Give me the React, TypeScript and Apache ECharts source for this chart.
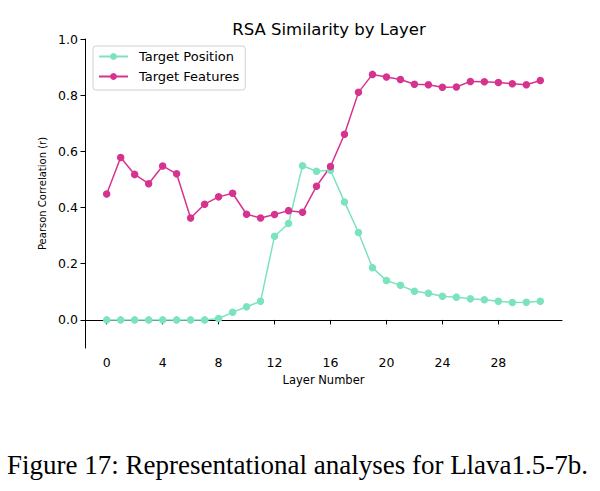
import React, { useEffect, useRef } from "react";
import * as echarts from "echarts";

const layers = Array.from({ length: 32 }, (_, i) => i);
const targetPosition = [
  0.0, 0.0, 0.0, 0.0, 0.0, 0.0, 0.0, 0.0, 0.005, 0.027, 0.047, 0.066,
  0.298, 0.343, 0.549, 0.529, 0.533, 0.42, 0.311, 0.186, 0.14, 0.123,
  0.102, 0.095, 0.084, 0.081, 0.075, 0.072, 0.066, 0.062, 0.063, 0.066,
];
const targetFeatures = [
  0.448, 0.578, 0.518, 0.485, 0.548, 0.52, 0.363, 0.412, 0.438, 0.451,
  0.376, 0.363, 0.375, 0.389, 0.383, 0.476, 0.546, 0.661, 0.81, 0.874,
  0.865, 0.856, 0.839, 0.837, 0.828, 0.829, 0.849, 0.848, 0.845, 0.841,
  0.837, 0.852,
];
const xTicks = [0, 4, 8, 12, 16, 20, 24, 28];
const yTicks = [0, 0.2, 0.4, 0.6, 0.8, 1.0];

const FONT = "DejaVu Sans";

export default function App() {
  const ref = useRef<HTMLDivElement>(null);
  useEffect(() => {
    if (!ref.current) return;
    const chart = echarts.init(ref.current, null, { renderer: "svg" });
    chart.setOption({
      animation: false,
      backgroundColor: "#ffffff",
      textStyle: { fontFamily: FONT },
      title: {
        text: "RSA Similarity by Layer",
        left: 324,
        textAlign: "center",
        top: 16,
        textStyle: { fontFamily: FONT, fontSize: 16.5, fontWeight: "normal", color: "#000" },
      },
      legend: {
        orient: "vertical",
        left: 93,
        top: 46,
        padding: [4, 6, 7, 5],
        itemGap: 7,
        itemWidth: 29,
        itemHeight: 8.5,
        borderColor: "#d0d0d0",
        borderWidth: 1,
        borderRadius: 3,
        textStyle: { fontFamily: FONT, fontSize: 13, color: "#000", padding: [0, 0, 0, 6] },
        data: ["Target Position", "Target Features"],
      },
      grid: { left: 85, top: 39, width: 477, height: 309, containLabel: false },
      xAxis: {
        type: "value",
        min: -1.55,
        max: 32.55,
        name: "Layer Number",
        nameLocation: "middle",
        nameGap: 25,
        nameTextStyle: { fontFamily: FONT, fontSize: 11.5, color: "#000" },
        axisLine: { show: true, lineStyle: { color: "#000", width: 1 } },
        axisTick: { show: true, customValues: xTicks, length: 4.5, lineStyle: { color: "#000" } },
        axisLabel: {
          customValues: xTicks,
          fontFamily: FONT,
          fontSize: 12.5,
          color: "#000",
          margin: 8,
        },
        splitLine: { show: false },
      },
      yAxis: {
        type: "value",
        min: -0.1,
        max: 1.0,
        name: "Pearson Correlation (r)",
        nameLocation: "middle",
        nameGap: 31,
        nameTextStyle: { fontFamily: FONT, fontSize: 10, color: "#000" },
        axisLine: { show: true, onZero: false, lineStyle: { color: "#000", width: 1 } },
        axisTick: { show: true, customValues: yTicks, length: 4.5, lineStyle: { color: "#000" } },
        axisLabel: {
          customValues: yTicks,
          formatter: (v: number) => v.toFixed(1),
          fontFamily: FONT,
          fontSize: 12.5,
          color: "#000",
          margin: 7,
        },
        splitLine: { show: false },
      },
      series: [
        {
          name: "Target Position",
          type: "line",
          data: layers.map((l, i) => [l, targetPosition[i]]),
          symbol: "circle",
          symbolSize: 7.5,
          itemStyle: { color: "#7de3bd" },
          lineStyle: { color: "#7de3bd", width: 1.5 },
        },
        {
          name: "Target Features",
          type: "line",
          data: layers.map((l, i) => [l, targetFeatures[i]]),
          symbol: "circle",
          symbolSize: 7.5,
          itemStyle: { color: "#d6338f" },
          lineStyle: { color: "#d6338f", width: 1.5 },
        },
      ],
      graphic: [
        {
          type: "text",
          left: 7,
          top: 451,
          style: {
            text: "Figure 17: Representational analyses for Llava1.5-7b.",
            font: '27px "Liberation Serif"',
            fill: "#000",
          },
        },
      ],
    });
    return () => chart.dispose();
  }, []);
  return (
    <div
      ref={ref}
      style={{ position: "fixed", left: 0, top: 0, width: 600, height: 491 }}
    />
  );
}
